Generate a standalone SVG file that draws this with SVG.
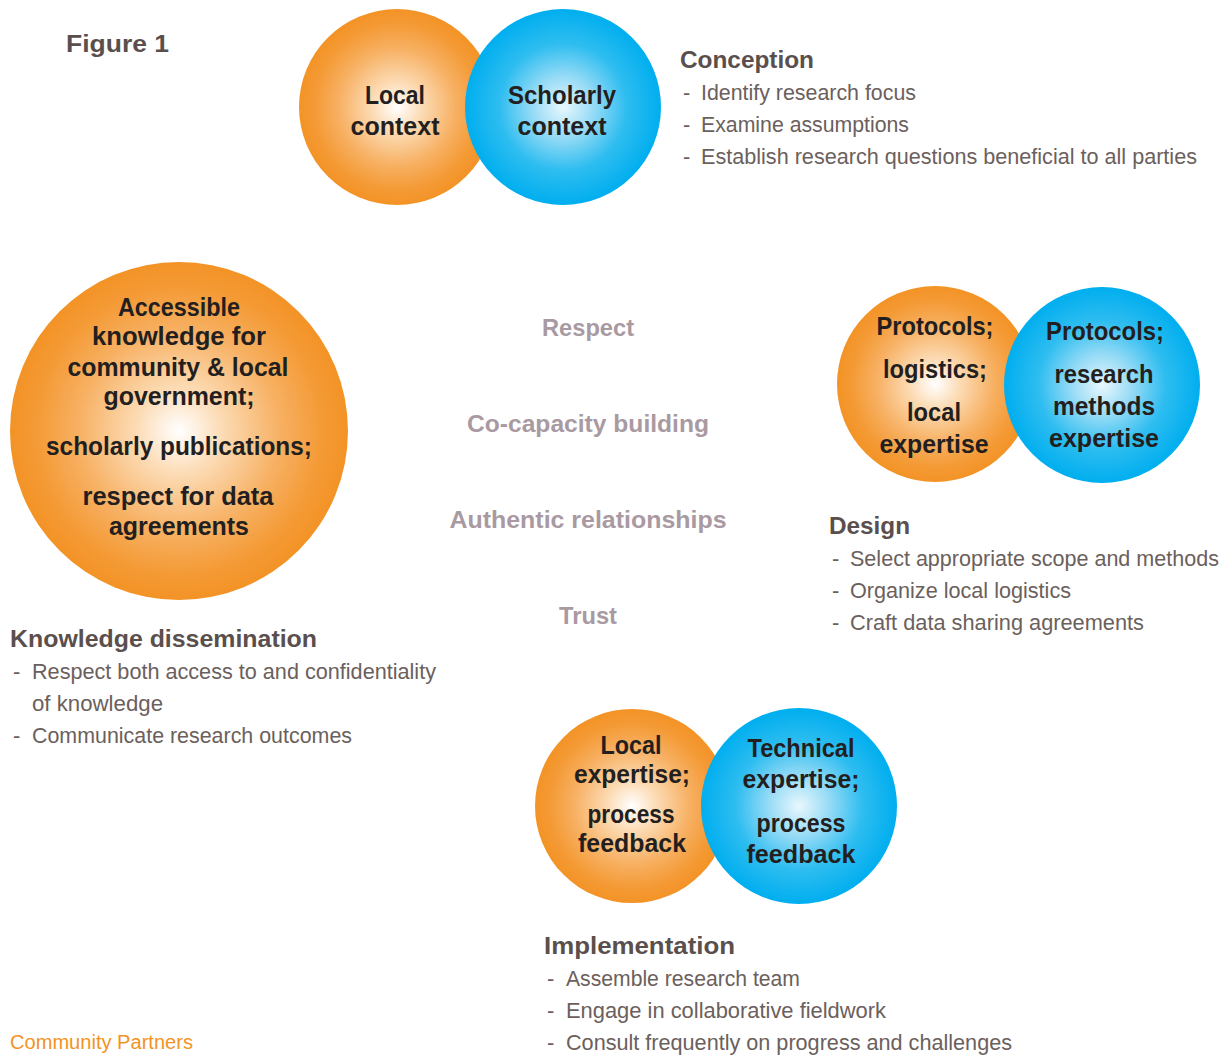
<svg xmlns="http://www.w3.org/2000/svg" width="1225" height="1057" viewBox="0 0 1225 1057">
<defs>
<radialGradient id="gOr" cx="0.5" cy="0.5" r="0.5">
<stop offset="0" stop-color="#ffffff"/>
<stop offset="0.25" stop-color="#fcdcb6"/>
<stop offset="0.6" stop-color="#f7b062"/>
<stop offset="0.85" stop-color="#f49a35"/>
<stop offset="1" stop-color="#f39326"/>
</radialGradient>
<radialGradient id="gBl" cx="0.5" cy="0.5" r="0.5">
<stop offset="0" stop-color="#e8f7fd"/>
<stop offset="0.3" stop-color="#9adcf6"/>
<stop offset="0.65" stop-color="#2ebdf0"/>
<stop offset="1" stop-color="#00aeef"/>
</radialGradient>
<style>
.or{fill:url(#gOr)}
.bl{fill:url(#gBl)}
.ct{font-family:"Liberation Sans",Arial,sans-serif;font-weight:bold;font-size:25px;fill:#231f20;text-anchor:middle}
.ti{font-family:"Liberation Sans",Arial,sans-serif;font-weight:bold;font-size:24px;fill:#5a4f4c}
.bd{font-family:"Liberation Sans",Arial,sans-serif;font-size:22px;fill:#6b605c}
.vl{font-family:"Liberation Sans",Arial,sans-serif;font-weight:bold;font-size:24px;fill:#a99aa2;text-anchor:middle}
.cp{font-family:"Liberation Sans",Arial,sans-serif;font-size:20px;fill:#f39325}
</style>
</defs>
<rect width="1225" height="1057" fill="#ffffff"/>

<text class="ti" x="66" y="52" textLength="103" lengthAdjust="spacingAndGlyphs" font-size="26">Figure 1</text>

<g id="conception">
<circle class="or" cx="397" cy="107" r="98"/>
<circle class="bl" cx="563" cy="107" r="98"/>
<text class="ct" x="395" y="104" textLength="60" lengthAdjust="spacingAndGlyphs">Local</text>
<text class="ct" x="395" y="135" textLength="89" lengthAdjust="spacingAndGlyphs">context</text>
<text class="ct" x="562" y="104" textLength="108" lengthAdjust="spacingAndGlyphs">Scholarly</text>
<text class="ct" x="562" y="135" textLength="89" lengthAdjust="spacingAndGlyphs">context</text>
<text class="ti" x="680" y="68" textLength="134" lengthAdjust="spacingAndGlyphs">Conception</text>
<text class="bd" x="683" y="100">-</text>
<text class="bd" x="701" y="100" textLength="215" lengthAdjust="spacingAndGlyphs">Identify research focus</text>
<text class="bd" x="683" y="132">-</text>
<text class="bd" x="701" y="132" textLength="208" lengthAdjust="spacingAndGlyphs">Examine assumptions</text>
<text class="bd" x="683" y="164">-</text>
<text class="bd" x="701" y="164" textLength="496" lengthAdjust="spacingAndGlyphs">Establish research questions beneficial to all parties</text>
</g>

<g id="design">
<circle class="or" cx="935" cy="384" r="98"/>
<circle class="bl" cx="1102" cy="385" r="98"/>
<text class="ct" x="935" y="335" textLength="117" lengthAdjust="spacingAndGlyphs">Protocols;</text>
<text class="ct" x="935" y="378" textLength="104" lengthAdjust="spacingAndGlyphs">logistics;</text>
<text class="ct" x="934" y="421" textLength="54" lengthAdjust="spacingAndGlyphs">local</text>
<text class="ct" x="934" y="453" textLength="109" lengthAdjust="spacingAndGlyphs">expertise</text>
<text class="ct" x="1105" y="340" textLength="118" lengthAdjust="spacingAndGlyphs">Protocols;</text>
<text class="ct" x="1104" y="383" textLength="99" lengthAdjust="spacingAndGlyphs">research</text>
<text class="ct" x="1104" y="415" textLength="102" lengthAdjust="spacingAndGlyphs">methods</text>
<text class="ct" x="1104" y="447" textLength="110" lengthAdjust="spacingAndGlyphs">expertise</text>
<text class="ti" x="829" y="534" textLength="81" lengthAdjust="spacingAndGlyphs">Design</text>
<text class="bd" x="832" y="566">-</text>
<text class="bd" x="850" y="566" textLength="369" lengthAdjust="spacingAndGlyphs">Select appropriate scope and methods</text>
<text class="bd" x="832" y="598">-</text>
<text class="bd" x="850" y="598" textLength="221" lengthAdjust="spacingAndGlyphs">Organize local logistics</text>
<text class="bd" x="832" y="630">-</text>
<text class="bd" x="850" y="630" textLength="294" lengthAdjust="spacingAndGlyphs">Craft data sharing agreements</text>
</g>

<g id="implementation">
<circle class="or" cx="632" cy="806" r="97"/>
<circle class="bl" cx="799" cy="806" r="98"/>
<text class="ct" x="631" y="754" textLength="61" lengthAdjust="spacingAndGlyphs">Local</text>
<text class="ct" x="632" y="783" textLength="116" lengthAdjust="spacingAndGlyphs">expertise;</text>
<text class="ct" x="631" y="823" textLength="87" lengthAdjust="spacingAndGlyphs">process</text>
<text class="ct" x="632" y="852" textLength="108" lengthAdjust="spacingAndGlyphs">feedback</text>
<text class="ct" x="801" y="757" textLength="107" lengthAdjust="spacingAndGlyphs">Technical</text>
<text class="ct" x="801" y="788" textLength="117" lengthAdjust="spacingAndGlyphs">expertise;</text>
<text class="ct" x="801" y="832" textLength="89" lengthAdjust="spacingAndGlyphs">process</text>
<text class="ct" x="801" y="863" textLength="109" lengthAdjust="spacingAndGlyphs">feedback</text>
<text class="ti" x="544" y="954" textLength="191" lengthAdjust="spacingAndGlyphs">Implementation</text>
<text class="bd" x="547" y="986">-</text>
<text class="bd" x="566" y="986" textLength="234" lengthAdjust="spacingAndGlyphs">Assemble research team</text>
<text class="bd" x="547" y="1018">-</text>
<text class="bd" x="566" y="1018" textLength="320" lengthAdjust="spacingAndGlyphs">Engage in collaborative fieldwork</text>
<text class="bd" x="547" y="1050">-</text>
<text class="bd" x="566" y="1050" textLength="446" lengthAdjust="spacingAndGlyphs">Consult frequently on progress and challenges</text>
</g>

<g id="dissemination">
<circle class="or" cx="179" cy="431" r="169"/>
<text class="ct" x="179" y="316" textLength="122" lengthAdjust="spacingAndGlyphs">Accessible</text>
<text class="ct" x="179" y="345" textLength="174" lengthAdjust="spacingAndGlyphs">knowledge for</text>
<text class="ct" x="178" y="376" textLength="221" lengthAdjust="spacingAndGlyphs">community &amp; local</text>
<text class="ct" x="179" y="405" textLength="151" lengthAdjust="spacingAndGlyphs">government;</text>
<text class="ct" x="179" y="455" textLength="266" lengthAdjust="spacingAndGlyphs">scholarly publications;</text>
<text class="ct" x="178" y="505" textLength="191" lengthAdjust="spacingAndGlyphs">respect for data</text>
<text class="ct" x="179" y="535" textLength="140" lengthAdjust="spacingAndGlyphs">agreements</text>
<text class="ti" x="10" y="647" textLength="307" lengthAdjust="spacingAndGlyphs">Knowledge dissemination</text>
<text class="bd" x="13" y="679">-</text>
<text class="bd" x="32" y="679" textLength="404" lengthAdjust="spacingAndGlyphs">Respect both access to and confidentiality</text>
<text class="bd" x="32" y="711" textLength="131" lengthAdjust="spacingAndGlyphs">of knowledge</text>
<text class="bd" x="13" y="743">-</text>
<text class="bd" x="32" y="743" textLength="320" lengthAdjust="spacingAndGlyphs">Communicate research outcomes</text>
</g>

<g id="values">
<text class="vl" x="588" y="336" textLength="92" lengthAdjust="spacingAndGlyphs">Respect</text>
<text class="vl" x="588" y="432" textLength="242" lengthAdjust="spacingAndGlyphs">Co-capacity building</text>
<text class="vl" x="588" y="528" textLength="277" lengthAdjust="spacingAndGlyphs">Authentic relationships</text>
<text class="vl" x="588" y="624" textLength="58" lengthAdjust="spacingAndGlyphs">Trust</text>
</g>

<g id="connectors"></g>

<text class="cp" x="10" y="1049" textLength="183" lengthAdjust="spacingAndGlyphs">Community Partners</text>
</svg>
